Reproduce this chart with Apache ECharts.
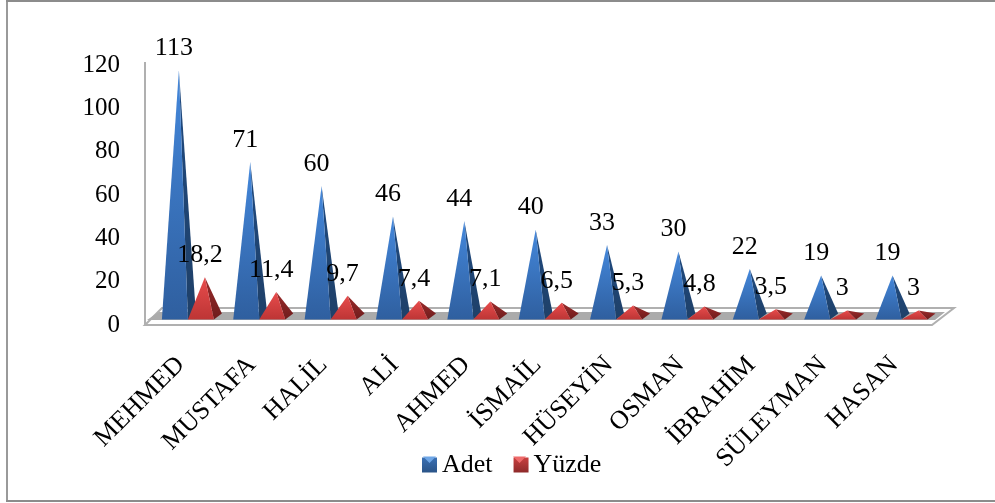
<!DOCTYPE html>
<html><head><meta charset="utf-8">
<style>html,body{margin:0;padding:0;background:#fff}#c{width:995px;height:503px}</style>
<script src="https://cdn.jsdelivr.net/npm/echarts@6/dist/echarts.min.js"></script></head>
<body><div id="c"></div>
<script>
const categories = ['MEHMED','MUSTAFA','HALİL','ALİ','AHMED','İSMAİL','HÜSEYİN','OSMAN','İBRAHİM','SÜLEYMAN','HASAN'];
const adet = [113,71,60,46,44,40,33,30,22,19,19];
const yuzde = [18.2,11.4,9.7,7.4,7.1,6.5,5.3,4.8,3.5,3,3];
const yTicks = {min:0,max:120,interval:20};
const FONT = '"Liberation Serif","Times New Roman",serif';

const chart = echarts.init(document.getElementById('c'),null,{renderer:'canvas'});
const lg=(a,b)=>new echarts.graphic.LinearGradient(0,0,0,1,[{offset:0,color:a},{offset:1,color:b}]);

function cone(off,front,side){
  return function(params,api){
    const i=api.value(0), v=api.value(1);
    const top=api.coord([i,v]), zero=api.coord([i,0]);
    const ax=top[0]+off, ay=top[1];
    const by=zero[1]+2.5, ry=zero[1]-3.5;
    return {type:'group',children:[
      {type:'polygon',shape:{points:[[ax,ay],[ax+9,by],[ax+17,ry]]},style:{fill:lg(side[0],side[1])}},
      {type:'polygon',shape:{points:[[ax,ay],[ax-17,by],[ax+9,by]]},style:{fill:lg(front[0],front[1])}},
      {type:'text',style:{text:String(v).replace('.',','),x:ax-5,y:ay-22,align:'center',verticalAlign:'middle',
        font:'26px '+FONT,fill:'#000'},z2:10}
    ]};
  };
}
function floor(params,api){
  const c=params.coordSys, L=c.x, R=c.x+c.width, B=c.y+c.height-3;
  const g='#b0b0b0';
  return {type:'group',children:[
    {type:'polygon',shape:{points:[[L,B+3],[L+17,B-14],[R+24,B-14],[R+2,B+3]]},style:{fill:'#fff',stroke:g,lineWidth:2}},
    {type:'polygon',shape:{points:[[L+2,B-2],[L+14,B-10],[R+15,B-10],[R+5,B-2]]},style:{fill:'#ababab'}},
    {type:'line',shape:{x1:L,y1:c.y-3,x2:L,y2:B+3},style:{stroke:g,lineWidth:2}}
  ]};
}

chart.setOption({
  animation:false,
  backgroundColor:'#fff',
  textStyle:{fontFamily:FONT},
  graphic:[
    {type:'line',silent:true,shape:{x1:7,y1:0,x2:7,y2:502},style:{stroke:'#9a9a9a',lineWidth:2}},
    {type:'line',silent:true,shape:{x1:6,y1:1,x2:995,y2:1},style:{stroke:'#8c8c8c',lineWidth:2}},
    {type:'line',silent:true,shape:{x1:6,y1:501,x2:995,y2:501},style:{stroke:'#8c8c8c',lineWidth:2}},
    {type:'polygon',silent:true,z:100,shape:{points:[[423,456.5],[436,456.5],[429.5,463]]},style:{fill:'#6ea6e6'}},
    {type:'polygon',silent:true,z:100,shape:{points:[[513,456.5],[526,456.5],[519.5,463]]},style:{fill:'#ee6a6a'}}
  ],
  grid:[
    {left:145,top:65,width:785,height:260},
    {left:145,top:55,width:785,height:262}
  ],
  xAxis:[
    {type:'category',gridIndex:0,data:categories,axisLine:{show:false},axisTick:{show:false},
     axisLabel:{rotate:45,interval:0,margin:36,fontSize:26,color:'#000',fontFamily:FONT}},
    {type:'category',gridIndex:1,data:categories,show:false}
  ],
  yAxis:[
    {type:'value',gridIndex:0,min:yTicks.min,max:yTicks.max,interval:yTicks.interval,
     axisLine:{show:false},axisTick:{show:false},splitLine:{show:false},
     axisLabel:{margin:25,fontSize:25,color:'#000',fontFamily:FONT}},
    {type:'value',gridIndex:1,min:yTicks.min,max:yTicks.max,interval:yTicks.interval,show:false}
  ],
  legend:{data:['Adet','Yüzde'],left:422,top:452,padding:0,itemWidth:15,itemHeight:15,itemGap:21,icon:'rect',
    textStyle:{fontSize:26,color:'#000',fontFamily:FONT,padding:[8,0,0,0]}},
  series:[
    {name:'floor',type:'custom',xAxisIndex:0,yAxisIndex:0,data:[[0,0]],renderItem:floor,silent:true,z:1},
    {name:'Adet',type:'custom',xAxisIndex:1,yAxisIndex:1,z:2,
     itemStyle:{color:lg('#3a70b4','#2a5488')},
     encode:{x:0,y:1},data:adet.map((v,i)=>[i,v]),
     renderItem:cone(-1.8,['#4488dc','#2f5f9f'],['#1f4a80','#1f4068'])},
    {name:'Yüzde',type:'custom',xAxisIndex:1,yAxisIndex:1,z:3,
     itemStyle:{color:lg('#c94040','#8e2a2a')},
     encode:{x:0,y:1},data:yuzde.map((v,i)=>[i,v]),
     renderItem:cone(24.2,['#e84c4c','#bd3535'],['#9a2a2a','#6e1c1c'])}
  ]
});
</script></body></html>
